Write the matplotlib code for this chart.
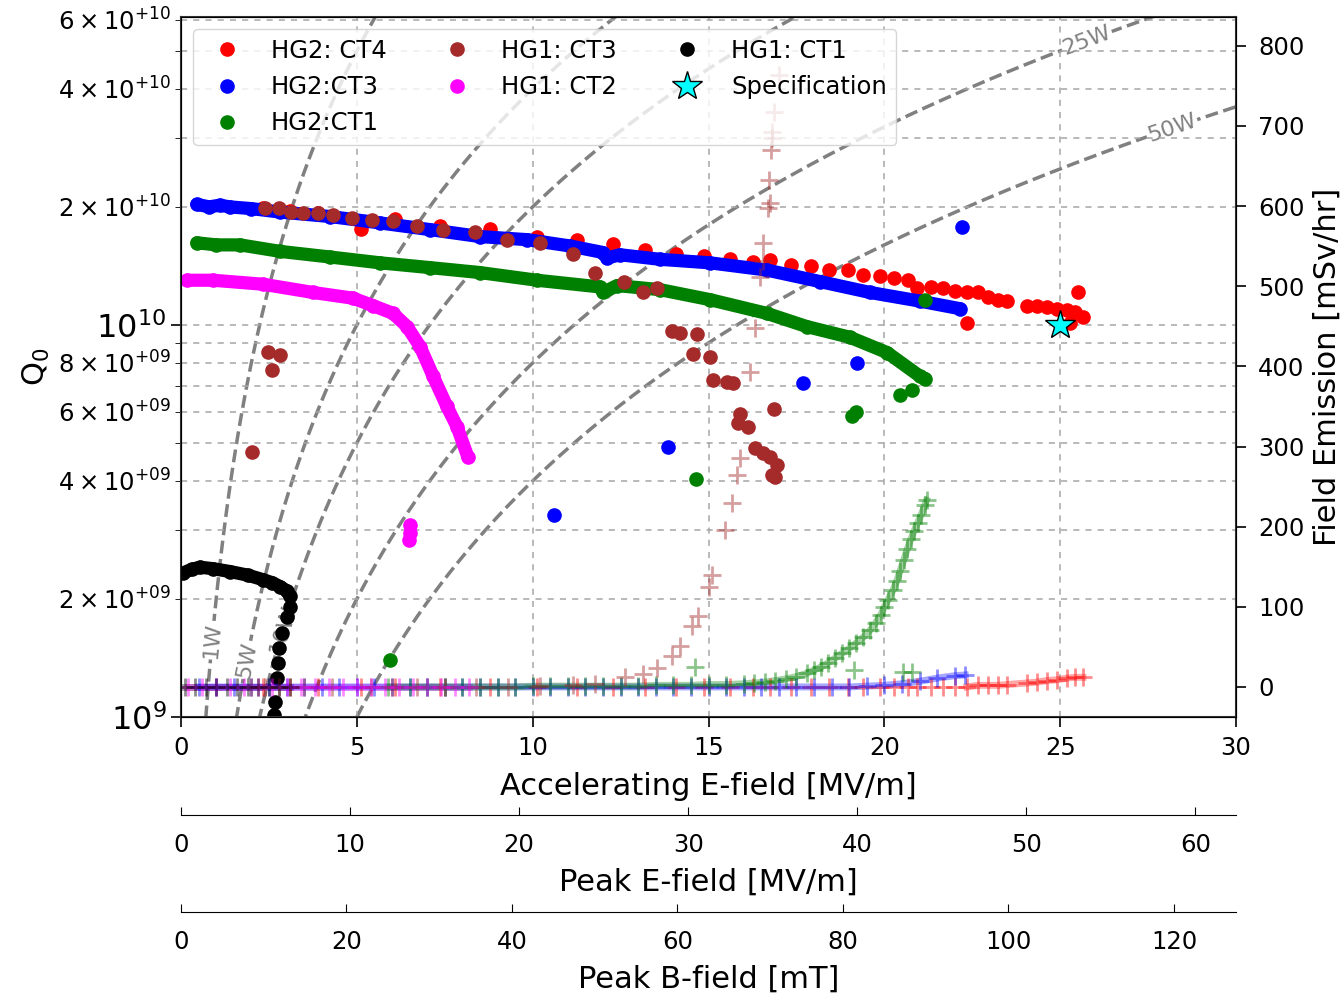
import numpy as np
import matplotlib
matplotlib.use('Agg')
import matplotlib.pyplot as plt
from matplotlib.ticker import FixedLocator, FuncFormatter

# ---------------- data (Eacc in MV/m, Q0 in units of 1e10, FE in mSv/hr) ----------------
# HG2: CT4 (red)
ct4_E = [2.33, 3.10, 3.90, 5.12, 6.09, 7.36, 8.79, 10.12, 11.26, 12.28,
         13.19, 14.08, 14.87, 15.61, 16.27, 16.75, 17.35, 17.91, 18.43, 18.97,
         19.39, 19.88, 20.27, 20.67, 20.93, 21.33, 21.67, 22.01, 22.35, 22.66,
         22.95, 23.23, 23.49, 24.06, 24.34, 24.63, 24.91, 25.19, 25.42, 25.65,
         25.51, 22.35, 25.28]
ct4_Q = [1.99, 1.95, 1.93, 1.76, 1.86, 1.79, 1.76, 1.68, 1.65, 1.61,
         1.55, 1.52, 1.50, 1.47, 1.45, 1.46, 1.42, 1.41, 1.38, 1.38,
         1.34, 1.33, 1.32, 1.30, 1.24, 1.25, 1.24, 1.22, 1.21, 1.21,
         1.18, 1.16, 1.15, 1.12, 1.12, 1.11, 1.10, 1.09, 1.08, 1.05,
         1.21, 1.01, 1.01]

# HG2:CT3 (blue) main curve + scattered points
ct3b_E = [0.45, 0.8, 1.1, 1.39, 2.0, 2.82, 4.24, 5.66, 7.08, 8.50, 9.84, 11.06,
          12.0, 12.11, 12.48, 13.62, 15.04, 16.66, 18.17, 19.59, 21.01, 22.15]
ct3b_Q = [2.03, 2.00, 2.02, 2.00, 1.98, 1.94, 1.89, 1.82, 1.75, 1.68, 1.65, 1.59,
          1.53, 1.48, 1.51, 1.47, 1.44, 1.38, 1.29, 1.21, 1.15, 1.10]
ct3b_out_E = [22.2, 19.22, 17.69, 13.85, 10.61]
ct3b_out_Q = [1.78, 0.80, 0.711, 0.488, 0.328]

# HG2:CT1 (green)
ct1g_E = [0.45, 1.0, 1.68, 2.82, 4.24, 5.66, 7.08, 8.50, 10.12, 11.91, 12.0, 12.4,
          13.62, 15.04, 16.66, 17.8, 19.02, 20.08, 21.01, 21.16]
ct1g_Q = [1.62, 1.60, 1.60, 1.54, 1.49, 1.44, 1.40, 1.36, 1.30, 1.25, 1.21, 1.26,
          1.23, 1.16, 1.07, 0.99, 0.93, 0.85, 0.74, 0.73]
ct1g_out_E = [21.16, 20.45, 20.8, 19.19, 19.08, 14.64, 5.94]
ct1g_out_Q = [1.16, 0.663, 0.683, 0.60, 0.586, 0.405, 0.140]

# HG1: CT3 (brown)
hg1ct3_E = [2.39, 2.79, 3.13, 3.47, 3.90, 4.32, 4.86, 5.43, 6.03, 6.71,
            7.45, 8.36, 9.27, 10.21, 11.15, 11.77, 12.6, 13.14, 13.54, 13.96,
            14.19, 14.67, 14.56, 15.04, 15.13, 15.53, 15.70, 15.90, 15.84, 16.12,
            16.86, 16.32, 16.55, 16.75, 16.95, 16.81, 16.89, 2.47, 2.82, 2.59,
            2.02]
hg1ct3_Q = [1.99, 1.99, 1.94, 1.93, 1.93, 1.91, 1.87, 1.85, 1.84, 1.79,
            1.75, 1.73, 1.65, 1.62, 1.52, 1.36, 1.29, 1.21, 1.24, 0.966,
            0.955, 0.95, 0.843, 0.828, 0.724, 0.716, 0.711, 0.593, 0.562, 0.55,
            0.61, 0.486, 0.471, 0.46, 0.44, 0.414, 0.409, 0.853, 0.838, 0.768,
            0.474]

# HG1: CT2 (magenta)
hg1ct2_E = [0.17, 0.91, 2.33, 3.75, 4.89, 5.46, 6.03, 6.43, 6.80, 7.17, 7.56, 7.85, 8.16]
hg1ct2_Q = [1.30, 1.30, 1.27, 1.21, 1.17, 1.12, 1.07, 0.99, 0.88, 0.74, 0.62, 0.55, 0.46]
hg1ct2_out_E = [6.51, 6.51, 6.48]
hg1ct2_out_Q = [0.309, 0.294, 0.283]

# HG1: CT1 (black): flat part, then quench drop
hg1ct1_E = [0.06, 0.3, 0.54, 0.9, 1.39, 1.9, 2.33, 2.6, 2.82, 3.0, 3.10]
hg1ct1_Q = [0.233, 0.238, 0.241, 0.239, 0.235, 0.230, 0.224, 0.220, 0.215, 0.210, 0.204]
hg1ct1_drop_E = [3.10, 3.01, 2.87, 2.79, 2.76, 2.73, 2.67, 2.64, 2.62]
hg1ct1_drop_Q = [0.191, 0.180, 0.164, 0.150, 0.137, 0.126, 0.109, 0.101, 0.095]

spec_E = [25.0]
spec_Q = [1.0]

# field emission (right axis)
fe_ct4_E = ct4_E[:40]
fe_ct4 = [0, 0, 0, 0, 0, 0, 0, 0, 0, 0,
          0, 0, 0, 0, 0, 0, 0, 0, 0, 0,
          0, 0, 0, 0, 0, 0, 0, 0, 0, 2,
          2, 2, 3, 5, 6, 8, 9, 11, 12, 12]
fe_ct3b_E = [0.5, 1.0, 1.5, 2.0, 2.5, 3.0, 3.5, 4.0, 4.5, 5.0, 5.5, 6.0, 6.5, 7.0, 7.5,
             8.0, 8.5, 9.0, 9.5, 10.0, 10.5, 11.0, 11.5, 12.0, 12.5, 13.0, 13.5, 14.0,
             14.5, 15.0, 15.5, 16.0, 16.5, 17.0, 17.5, 18.0, 18.5, 19.0, 19.5, 20.0,
             20.5, 21.0, 21.5, 22.0, 22.3]
fe_ct3b = [0, 0, 0, 0, 0, 0, 0, 0, 0, 0, 0, 0, 0, 0, 0,
           0, 0, 0, 0, 0, 0, 0, 0, 0, 0, 0, 0, 0,
           0, 0, 0, 0, 0, 0, 0, 0, 0, 0, 1, 2,
           4, 7, 11, 14, 15]
fe_ct1g_E = [5.9, 6.5, 7.0, 7.5, 8.0, 8.5, 9.0, 9.5, 10.0, 10.5,
             11.0, 11.5, 12.0, 12.5, 13.0, 13.5, 14.0, 14.5, 15.0, 15.5,
             16.0, 16.3, 16.6, 16.9, 17.2, 17.5, 17.8, 18.0, 18.2, 18.4,
             18.6, 18.8, 19.0, 19.2, 19.4, 19.6, 19.75, 19.9, 20.0, 20.1,
             20.25, 20.35, 20.45, 20.55, 20.65, 20.75, 20.85, 20.95, 21.05, 21.15,
             21.2]
fe_ct1g = [0, 0, 0, 0, 0, 0, 0, 0, 1, 1,
           1, 1, 1, 1, 1, 2, 2, 2, 3, 3,
           4, 5, 6, 8, 10, 13, 17, 21, 25, 30,
           36, 42, 48, 55, 62, 71, 80, 90, 100, 108,
           121, 132, 145, 158, 172, 184, 195, 205, 215, 227,
           233]
fe_ct1g_out_E = [14.62, 19.14, 20.53, 20.79]
fe_ct1g_out = [25, 21, 19, 19]
fe_hg1ct3_E = [2.0, 2.4, 2.8, 3.5, 4.3, 5.4, 6.0, 6.7, 7.5, 8.4,
               9.3, 10.2, 11.15, 11.77, 12.63, 13.14, 13.54, 13.96, 14.19, 14.53,
               14.70, 15.01, 15.10, 15.47, 15.67, 15.81, 15.90, 16.18, 16.32, 16.46,
               16.55, 16.55, 16.69, 16.75, 16.72, 16.78, 16.81, 16.81, 16.86, 17.0]
fe_hg1ct3 = [0, 0, 0, 0, 0, 0, 0, 0, 0, 0,
             0, 1, 2, 4, 12, 16, 24, 39, 51, 76,
             89, 125, 140, 196, 230, 265, 286, 393, 448, 511,
             531, 554, 598, 604, 633, 670, 685, 692, 717, 764]
fe_hg1ct2_E = [0.2, 0.6, 1.0, 1.4, 1.8, 2.2, 2.6, 3.0, 3.4, 3.8, 4.2, 4.6, 5.0, 5.4,
               5.8, 6.2, 6.6, 7.0, 7.4, 7.8, 8.2]
fe_hg1ct2 = [0, 0, 0, 0, 0, 0, 0, 0, 0, 0, 0, 0, 0, 0,
             0, 0, 0, 0, 0, 0, 0]
fe_hg1ct1_E = [0.1, 0.4, 0.7, 1.0, 1.3, 1.6, 1.9, 2.2, 2.5, 2.8, 3.1]
fe_hg1ct1 = [0, 0, 0, 0, 0, 0, 0, 0, 0, 0, 0]

# constant dissipated power lines: Q0 = G * Eacc^2 / P
power_levels = [1, 5, 10, 25, 50]
power_const = 2e9
power_label_E = [0.886, 1.87, 2.89, 25.76, 28.18]

# ---------------- figure ----------------
fig = plt.figure(figsize=(13.44, 9.93), dpi=100)
ax = fig.add_axes([181 / 1344, 1 - 717 / 993, 1055 / 1344, 700 / 993])
ax2 = ax.twinx()

sc = 1e10
ms = 9.5

ax.set_yscale('log')
ax.set_xlim(0, 30)
ax.set_ylim(1e9, 6.1e10)

# power lines
E_line = np.linspace(0.05, 30, 400)
for P, El in zip(power_levels, power_label_E):
    ax.plot(E_line, power_const * E_line ** 2 / P, '--', color='grey', lw=2.5, zorder=1)
    ql = power_const * El ** 2 / P
    p1 = ax.transData.transform((El, ql))
    p2 = ax.transData.transform((El * 1.01, power_const * (El * 1.01) ** 2 / P))
    ang = np.degrees(np.arctan2(p2[1] - p1[1], p2[0] - p1[0]))
    ax.text(El, ql, '%dW' % P, rotation=ang, rotation_mode='anchor', ha='center',
            va='center', color='grey', fontsize=16, zorder=1.5,
            bbox=dict(facecolor='white', edgecolor='none', pad=1))

# Q0 series
ax.plot(ct4_E, np.array(ct4_Q) * sc, 'o', color='red', ms=ms, label='HG2: CT4', zorder=2)

ax.plot(ct3b_E, np.array(ct3b_Q) * sc, '-', color='blue', lw=ms, solid_capstyle='round', zorder=2)
ax.plot(ct3b_E, np.array(ct3b_Q) * sc, 'o', color='blue', ms=ms, label='HG2:CT3', zorder=2)
ax.plot(ct3b_out_E, np.array(ct3b_out_Q) * sc, 'o', color='blue', ms=ms, zorder=2)

ax.plot(ct1g_E, np.array(ct1g_Q) * sc, '-', color='green', lw=ms, solid_capstyle='round', zorder=2)
ax.plot(ct1g_E, np.array(ct1g_Q) * sc, 'o', color='green', ms=ms, label='HG2:CT1', zorder=2)
ax.plot(ct1g_out_E, np.array(ct1g_out_Q) * sc, 'o', color='green', ms=ms, zorder=2)

ax.plot(hg1ct3_E, np.array(hg1ct3_Q) * sc, 'o', color='brown', ms=ms, label='HG1: CT3', zorder=2)

ax.plot(hg1ct2_E, np.array(hg1ct2_Q) * sc, '-', color='magenta', lw=ms, solid_capstyle='round', zorder=2)
ax.plot(hg1ct2_E, np.array(hg1ct2_Q) * sc, 'o', color='magenta', ms=ms, label='HG1: CT2', zorder=2)
ax.plot(hg1ct2_out_E, np.array(hg1ct2_out_Q) * sc, 'o', color='magenta', ms=ms, zorder=2)

ax.plot(hg1ct1_E, np.array(hg1ct1_Q) * sc, '-', color='black', lw=ms, solid_capstyle='round', zorder=2)
ax.plot(hg1ct1_E, np.array(hg1ct1_Q) * sc, 'o', color='black', ms=ms, label='HG1: CT1', zorder=2)
ax.plot(hg1ct1_drop_E, np.array(hg1ct1_drop_Q) * sc, 'o', color='black', ms=ms, zorder=2)

ax.plot(spec_E, np.array(spec_Q) * sc, '*', color='cyan', mec='black', ms=22, label='Specification', zorder=4)

# field emission series
fe_kw = dict(ls='none', marker='+', ms=13, mew=2, alpha=0.45)
band_kw = dict(ls='-', lw=5, alpha=0.35)
ax2.plot(fe_hg1ct1_E, fe_hg1ct1, color='black', **band_kw)
ax2.plot(fe_hg1ct2_E, fe_hg1ct2, color='magenta', **band_kw)
ax2.plot(fe_ct3b_E, fe_ct3b, color='blue', **band_kw)
ax2.plot(fe_ct1g_E, fe_ct1g, color='green', **band_kw)
ax2.plot(fe_ct4_E[28:], fe_ct4[28:], color='red', **band_kw)
ax2.plot(fe_ct4_E, fe_ct4, color='red', **fe_kw)
ax2.plot(fe_ct3b_E, fe_ct3b, color='blue', **fe_kw)
ax2.plot(fe_ct1g_E, fe_ct1g, color='green', **fe_kw)
ax2.plot(fe_ct1g_out_E, fe_ct1g_out, color='green', **fe_kw)
ax2.plot(fe_hg1ct3_E, fe_hg1ct3, color='brown', **fe_kw)
ax2.plot(fe_hg1ct2_E, fe_hg1ct2, color='magenta', **fe_kw)
ax2.plot(fe_hg1ct1_E, fe_hg1ct1, color='black', **fe_kw)
ax2.set_ylim(-37.5, 836)
ax2.set_yticks([0, 100, 200, 300, 400, 500, 600, 700, 800])
ax2.tick_params(labelsize=17.5, length=7, width=1.2, pad=9)
ax2.set_ylabel('Field Emission [mSv/hr]', fontsize=22, labelpad=6)

# y axis formatting
ax.yaxis.set_major_locator(FixedLocator([1e9, 1e10]))
ax.yaxis.set_minor_locator(FixedLocator([2e9, 3e9, 4e9, 5e9, 6e9, 7e9, 8e9, 9e9,
                                         2e10, 3e10, 4e10, 5e10, 6e10]))
ax.yaxis.set_major_formatter(FuncFormatter(lambda v, p: r'$10^{%d}$' % round(np.log10(v))))


def minor_fmt(v, pos):
    ex = int(np.floor(np.log10(v) + 1e-9))
    m = int(round(v / 10 ** ex))
    if m % 2:
        return ''
    return r'$%d \times 10^{+%02d}$' % (m, ex)


ax.yaxis.set_minor_formatter(FuncFormatter(minor_fmt))
ax.tick_params(axis='y', which='major', labelsize=23, length=7, width=1.2)
ax.tick_params(axis='y', which='minor', labelsize=17.5, length=4)
ax.tick_params(axis='x', labelsize=17.5, length=7, width=1.2, pad=6.5)
ax.set_xticks([0, 5, 10, 15, 20, 25, 30])
ax.set_ylabel('Q$_0$', fontsize=22, labelpad=4)
ax.set_xlabel('Accelerating E-field [MV/m]', fontsize=22, labelpad=9)

ax.grid(True, which='both', axis='y', ls=(0, (4, 4)), color='0.65', lw=1.1)
ax.grid(True, which='major', axis='x', ls=(0, (4, 4)), color='0.65', lw=1.1)
for s in ax.spines.values():
    s.set_linewidth(1.5)
    s.set_color('0.2')

# extra x axes
sec1 = ax.secondary_xaxis(-0.14, functions=(lambda x: x * 2.08, lambda x: x / 2.08))
sec1.set_xticks([0, 10, 20, 30, 40, 50, 60])
sec1.tick_params(direction='in', labelsize=17.5, length=6, pad=13)
sec1.set_xlabel('Peak E-field [MV/m]', fontsize=22, labelpad=8)
sec2 = ax.secondary_xaxis(-0.2786, functions=(lambda x: x * 4.25, lambda x: x / 4.25))
sec2.set_xticks([0, 20, 40, 60, 80, 100, 120])
sec2.tick_params(direction='in', labelsize=17.5, length=6, pad=13)
sec2.set_xlabel('Peak B-field [mT]', fontsize=22, labelpad=8)

# legend above the field emission points
handles, labels = ax.get_legend_handles_labels()
leg = ax2.legend(handles, labels, loc='upper left', ncol=3, fontsize=17.5, framealpha=0.8,
                 edgecolor='0.8', columnspacing=1.9)

fig.savefig('out.png', dpi=100)
